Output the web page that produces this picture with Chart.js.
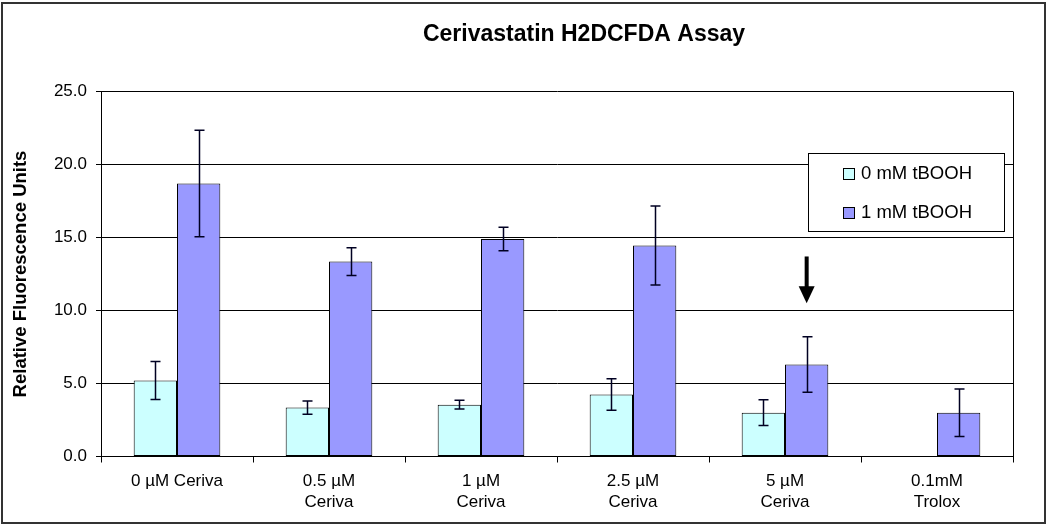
<!DOCTYPE html>
<html>
<head>
<meta charset="utf-8">
<script src="https://cdn.jsdelivr.net/npm/chart.js@4/dist/chart.umd.min.js"></script>
<style>
  html, body { margin: 0; padding: 0; background: #ffffff; }
  #wrap { width: 1050px; height: 527px; position: relative; }
</style>
</head>
<body>
<div id="wrap"><canvas id="c" width="1050" height="527"></canvas></div>
<script>
// ---- data ----
const chartTitle = 'Cerivastatin H2DCFDA Assay';
const yAxisTitle = 'Relative Fluorescence Units';
const categories = [
  ['0 µM Ceriva'],
  ['0.5 µM', 'Ceriva'],
  ['1 µM', 'Ceriva'],
  ['2.5 µM', 'Ceriva'],
  ['5 µM', 'Ceriva'],
  ['0.1mM', 'Trolox']
];
const seriesNames = ['0 mM tBOOH', '1 mM tBOOH'];
const values0mM = [5.2, 3.35, 3.55, 4.25, 3.0, null];
const errors0mM = [1.3, 0.45, 0.3, 1.08, 0.88, null];
const values1mM = [18.7, 13.35, 14.9, 14.45, 6.3, 3.0];
const errors1mM = [3.65, 0.95, 0.8, 2.7, 1.9, 1.63];
const yTickValues = [0, 5, 10, 15, 20, 25];
const arrowCategory = 4;      // points at the 1 mM bar of "5 µM Ceriva"
const arrowFrom = 13.7;
const arrowTo = 10.5;

const FONT = '"Liberation Sans", Arial, Helvetica, sans-serif';

const decorPlugin = {
  id: 'decor',
  beforeDraw(chart) {
    const ctx = chart.ctx;
    ctx.save();
    ctx.fillStyle = '#ffffff';
    ctx.fillRect(0, 0, chart.width, chart.height);
    ctx.restore();
  },
  afterDatasetsDraw(chart) {
    const ctx = chart.ctx;
    const y = chart.scales.y;
    const errs = [errors0mM, errors1mM];
    ctx.save();
    // error bars
    chart.data.datasets.forEach((ds, di) => {
      const meta = chart.getDatasetMeta(di);
      meta.data.forEach((bar, i) => {
        const v = ds.data[i];
        const e = errs[di][i];
        if (v == null || e == null) return;
        const x = Math.round(bar.x) + 0.5;
        const yTop = y.getPixelForValue(v + e);
        const yBot = y.getPixelForValue(v - e);
        ctx.strokeStyle = '#000022';
        ctx.lineWidth = 1.5;
        ctx.beginPath();
        ctx.moveTo(x, yTop); ctx.lineTo(x, yBot);
        ctx.moveTo(x - 5, yTop); ctx.lineTo(x + 5, yTop);
        ctx.moveTo(x - 5, yBot); ctx.lineTo(x + 5, yBot);
        ctx.stroke();
      });
    });
    // arrow
    const target = chart.getDatasetMeta(1).data[arrowCategory];
    const ax = target.x;
    const y1 = y.getPixelForValue(arrowFrom);
    const y2 = y.getPixelForValue(arrowTo);
    const head = 17;
    ctx.fillStyle = '#000000';
    ctx.fillRect(ax - 2, y1, 4, (y2 - y1) - head + 1);
    ctx.beginPath();
    ctx.moveTo(ax - 8, y2 - head);
    ctx.lineTo(ax + 8, y2 - head);
    ctx.lineTo(ax, y2);
    ctx.closePath();
    ctx.fill();
    ctx.restore();
  },
  afterDraw(chart) {
    const ctx = chart.ctx;
    const area = chart.chartArea;
    ctx.save();
    // right border of plot area
    ctx.strokeStyle = '#000000';
    ctx.lineWidth = 1;
    ctx.beginPath();
    ctx.moveTo(Math.round(area.right) + 0.5, area.top);
    ctx.lineTo(Math.round(area.right) + 0.5, area.bottom);
    ctx.stroke();
    // title
    ctx.fillStyle = '#000000';
    ctx.font = 'bold 23px ' + FONT;
    ctx.textAlign = 'center';
    ctx.textBaseline = 'middle';
    ctx.fillText(chartTitle, 584, 35);
    // legend
    const lx = 808.5, ly = 153.5, lw = 196, lh = 78;
    ctx.fillStyle = '#ffffff';
    ctx.fillRect(lx, ly, lw, lh);
    ctx.strokeStyle = '#000000';
    ctx.lineWidth = 1;
    ctx.strokeRect(lx, ly, lw, lh);
    const rows = [173, 211.5];
    chart.data.datasets.forEach((ds, i) => {
      const cy = rows[i];
      ctx.fillStyle = ds.backgroundColor;
      ctx.fillRect(843.5, Math.round(cy - 5) + 0.5, 11, 11);
      ctx.strokeStyle = '#000000';
      ctx.strokeRect(843.5, Math.round(cy - 5) + 0.5, 11, 11);
      ctx.fillStyle = '#000000';
      ctx.font = '18.5px ' + FONT;
      ctx.textAlign = 'left';
      ctx.textBaseline = 'middle';
      ctx.fillText(ds.label, 861, cy + 1);
    });
    // outer frame
    ctx.strokeStyle = '#333333';
    ctx.lineWidth = 2;
    ctx.strokeRect(2, 3, 1043, 520);
    ctx.restore();
  }
};

new Chart(document.getElementById('c'), {
  type: 'bar',
  data: {
    labels: categories,
    datasets: [
      {
        label: seriesNames[0],
        data: values0mM,
        backgroundColor: '#CCFFFF',
        borderColor: '#000000',
        borderWidth: 1,
        borderSkipped: false
      },
      {
        label: seriesNames[1],
        data: values1mM,
        backgroundColor: '#9999FF',
        borderColor: '#000000',
        borderWidth: 1,
        borderSkipped: false
      }
    ]
  },
  options: {
    responsive: false,
    animation: false,
    devicePixelRatio: 1,
    layout: { padding: { top: 91.5, right: 37, bottom: 0, left: 0 } },
    categoryPercentage: 0.57,
    barPercentage: 1.0,
    plugins: {
      legend: { display: false },
      title: { display: false },
      tooltip: { enabled: false }
    },
    scales: {
      x: {
        grid: {
          offset: true,
          drawOnChartArea: false,
          drawTicks: true,
          tickLength: 6,
          color: '#000000',
          lineWidth: 1
        },
        border: { display: true, color: '#000000', width: 1 },
        ticks: {
          color: '#000000',
          font: { family: FONT, size: 17, lineHeight: 1.25 },
          padding: 8,
          maxRotation: 0,
          autoSkip: false
        },
        afterFit(scale) { scale.height = 70.5; }
      },
      y: {
        min: 0,
        max: 25,
        afterBuildTicks(scale) {
          scale.ticks = yTickValues.map(v => ({ value: v }));
        },
        grid: {
          color: '#000000',
          lineWidth: 1,
          drawTicks: true,
          tickLength: 5
        },
        border: { display: true, color: '#000000', width: 1 },
        ticks: {
          color: '#000000',
          font: { family: FONT, size: 17 },
          padding: 9,
          callback: (v) => Number(v).toFixed(1)
        },
        title: {
          display: true,
          text: yAxisTitle,
          color: '#000000',
          font: { family: FONT, size: 18.5, weight: 'bold' },
          padding: { top: 9.5, bottom: 0 }
        },
        afterFit(scale) { scale.width = 101; }
      }
    }
  },
  plugins: [decorPlugin]
});
</script>
</body>
</html>
